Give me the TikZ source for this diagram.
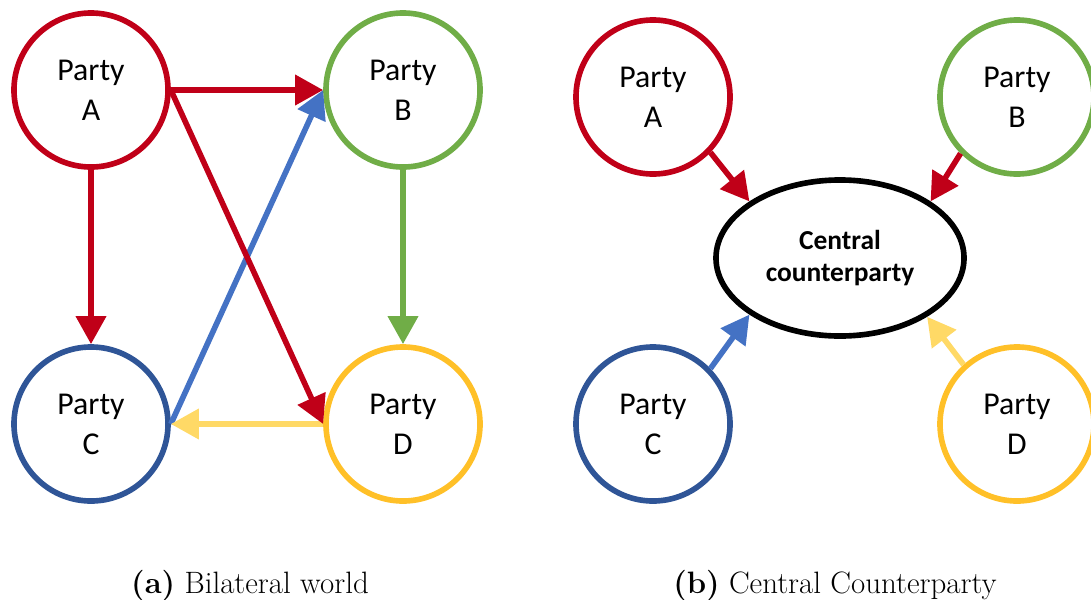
\documentclass[tikz,border=0pt]{standalone}
\usepackage{fontspec}
\newfontfamily\calib{Carlito}
\usetikzlibrary{arrows.meta,shapes.geometric}
\definecolor{cred}{RGB}{192,0,24}
\definecolor{cgreen}{RGB}{112,173,71}
\definecolor{cdblue}{RGB}{47,85,151}
\definecolor{cblue}{RGB}{68,114,196}
\definecolor{cyellow}{RGB}{255,192,40}
\definecolor{clyellow}{RGB}{255,217,102}
\tikzset{
  party/.style={circle, draw=#1, line width=4pt, minimum size=3.85cm, inner sep=0pt,
    align=center, font=\calib\fontsize{22.6}{28.5}\selectfont},
  ccp/.style={ellipse, draw=black, line width=4pt, minimum width=6.2cm, minimum height=3.9cm,
    inner sep=0pt, align=center, font=\calib\bfseries\fontsize{19.5}{22.8}\selectfont},
  conn/.style={draw=#1, line width=4pt, -{Triangle[length=20pt,width=21pt]}},
  captext/.style={font=\fontsize{22}{26}\selectfont, anchor=base}
}
\begin{document}
\begin{tikzpicture}[x=0.025cm, y=-0.025cm]
\useasboundingbox (0,0) rectangle (1091,599);
\clip (0,0) rectangle (1091,599);
% (a) bilateral
\node[party=cred]    (A) at (91,90)   {Party\\A};
\node[party=cgreen]  (B) at (403,90)  {Party\\B};
\node[party=cdblue]  (C) at (91,424)  {Party\\C};
\node[party=cyellow] (D) at (403,424) {Party\\D};
\draw[conn=cblue] (C.east) -- (B.west);
\draw[conn=clyellow] (D.west) -- (C.east);
\draw[conn=cred] (A.south) -- (C.north);
\draw[conn=cgreen] (B.south) -- (D.north);
\draw[conn=cred] (A.east) -- (B.west);
\draw[conn=cred] (A.east) -- (D.west);
% (b) central counterparty
\node[party=cred]    (A2) at (653,97)   {Party\\A};
\node[party=cgreen]  (B2) at (1017,97)  {Party\\B};
\node[party=cdblue]  (C2) at (653,424)  {Party\\C};
\node[party=cyellow] (D2) at (1017,424) {Party\\D};
\node[ccp] (E) at (840,258) {Central\\counterparty};
\draw[conn=cred] (A2.-44) -- (E.148);
\draw[conn=cred] (B2.-135) -- (E.32);
\draw[conn=cblue] (C2.44) -- (E.212);
\draw[conn=clyellow] (D2.132) -- (E.326);
% captions
\node[captext] (capa) at (250,593) {\textbf{(a)} Bilateral world};
\node[captext] (capb) at (835,593) {\textbf{(b)} Central Counterparty};
\end{tikzpicture}
\end{document}
